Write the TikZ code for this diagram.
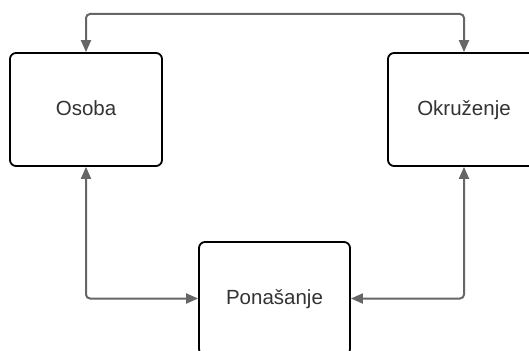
\documentclass[tikz,border=0pt]{standalone}
\usepackage{fontspec}
\setmainfont{Liberation Sans}
\usetikzlibrary{arrows.meta}
\definecolor{linkgray}{HTML}{666666}
\definecolor{labelgray}{HTML}{333333}
\tikzset{
  block/.style={draw=black, line width=1.8pt, rounded corners=6pt, fill=white,
    minimum width=152pt, minimum height=113pt, inner sep=0pt,
    text height=15pt, text depth=4pt,
    text=labelgray, font=\fontsize{20.5}{24}\selectfont},
  link/.style={draw=linkgray, line width=2pt, rounded corners=4pt,
    {Triangle[length=12pt,width=10pt]}-{Triangle[length=12pt,width=10pt]}},
}
\begin{document}
\begin{tikzpicture}[x=1pt,y=-1pt]
  \useasboundingbox (0,0) rectangle (529,350);
  \clip (0,0) rectangle (529,350);
  \fill[white] (0,0) rectangle (529,350);

  % three blocks
  \node[block] (osoba) at (86,109.5) {Osoba};
  \node[block] (okr) at (464,109.5) {Okruženje};
  \node[block, minimum width=151pt] (pon) at (274.5,298.5) {Ponašanje};

  % route of the top link
  \coordinate (topL) at (86,14);
  \coordinate (topR) at (464,14);

  % links
  \draw[link] (osoba.north) -- (topL) -- (topR) -- (okr.north);
  \draw[link] (osoba.south) |- (pon.west);
  \draw[link] (okr.south) |- (pon.east);
\end{tikzpicture}
\end{document}
